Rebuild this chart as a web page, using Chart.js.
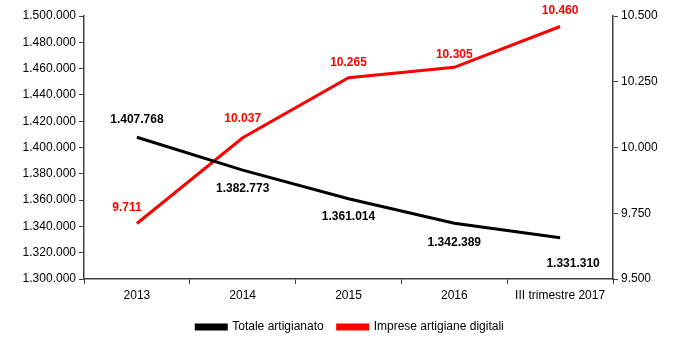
<!DOCTYPE html>
<html>
<head>
<meta charset="utf-8">
<script src="https://cdn.jsdelivr.net/npm/chart.js@4.4.1/dist/chart.umd.min.js"></script>
<style>
  html, body { margin: 0; padding: 0; background: #fff; }
  #wrap { width: 700px; height: 343px; }
</style>
</head>
<body>
<div id="wrap"><canvas id="canvas"></canvas></div>
<script>
const labels = ['2013', '2014', '2015', '2016', 'III trimestre 2017'];
const totaleArtigianato = [1407768, 1382773, 1361014, 1342389, 1331310];
const impreseDigitali = [9711, 10037, 10265, 10305, 10460];

const FONT = '"Liberation Sans Narrow", "Arial Narrow", "Liberation Sans", sans-serif';

// formato italiano 1.234.567
const fmt = v => String(Math.round(v)).replace(/\B(?=(\d{3})+(?!\d))/g, '.');

// posizione etichette: [dx, dy] rispetto al punto
const blackOffsets = [[0, -18], [0, 19], [0, 18], [0, 19], [13, 26]];
const redOffsets = [[-10, -16], [0, -19], [0, -15], [0, -13], [0, -16]];

const valueLabels = {
    id: 'valueLabels',
    afterDatasetsDraw(chart) {
        const ctx = chart.ctx;
        ctx.save();
        ctx.font = 'bold 12px ' + FONT;
        ctx.textAlign = 'center';
        ctx.textBaseline = 'middle';
        chart.data.datasets.forEach((ds, i) => {
            const meta = chart.getDatasetMeta(i);
            const offs = i === 0 ? blackOffsets : redOffsets;
            ctx.fillStyle = ds.borderColor;
            meta.data.forEach((pt, j) => {
                ctx.fillText(fmt(ds.data[j]), pt.x + offs[j][0], pt.y + offs[j][1]);
            });
        });
        ctx.restore();
    }
};

const axisColor = '#404040';

const config = {
    type: 'line',
    data: {
        labels: labels,
        datasets: [
            {
                label: 'Totale artigianato',
                data: totaleArtigianato,
                borderColor: '#000000',
                backgroundColor: '#000000',
                borderWidth: 3,
                pointRadius: 0,
                tension: 0,
                yAxisID: 'y'
            },
            {
                label: 'Imprese artigiane digitali',
                data: impreseDigitali,
                borderColor: '#ff0000',
                backgroundColor: '#ff0000',
                borderWidth: 3,
                pointRadius: 0,
                tension: 0,
                yAxisID: 'y1'
            }
        ]
    },
    options: {
        responsive: true,
        maintainAspectRatio: false,
        animation: false,
        layout: { padding: { top: 16, right: 0, left: 0, bottom: 0 } },
        plugins: {
            legend: {
                position: 'bottom',
                labels: {
                    boxWidth: 30,
                    boxHeight: 4,
                    color: '#000',
                    padding: 14,
                    font: { family: FONT, size: 12 }
                }
            },
            tooltip: { enabled: false }
        },
        scales: {
            x: {
                offset: true,
                grid: { offset: true, drawOnChartArea: false, tickLength: 5, color: axisColor },
                border: { color: axisColor, width: 1.5 },
                ticks: { color: '#000', font: { family: FONT, size: 12 }, maxRotation: 0, padding: 4 },
                afterFit: s => { s.height = 28; }
            },
            y: {
                position: 'left',
                min: 1300000,
                max: 1500000,
                grid: { drawOnChartArea: false, tickLength: 5, color: axisColor },
                border: { color: axisColor, width: 1.5 },
                ticks: {
                    stepSize: 20000,
                    color: '#000',
                    font: { family: FONT, size: 12 },
                    callback: v => fmt(v)
                },
                afterFit: s => { s.width = 84; }
            },
            y1: {
                position: 'right',
                min: 9500,
                max: 10500,
                grid: { drawOnChartArea: false, tickLength: 5, color: axisColor },
                border: { color: axisColor, width: 1.5 },
                ticks: {
                    stepSize: 250,
                    color: '#000',
                    font: { family: FONT, size: 12 },
                    callback: v => fmt(v)
                },
                afterFit: s => { s.width = 87; }
            }
        }
    },
    plugins: [valueLabels]
};

new Chart(document.getElementById('canvas'), config);
</script>
</body>
</html>
